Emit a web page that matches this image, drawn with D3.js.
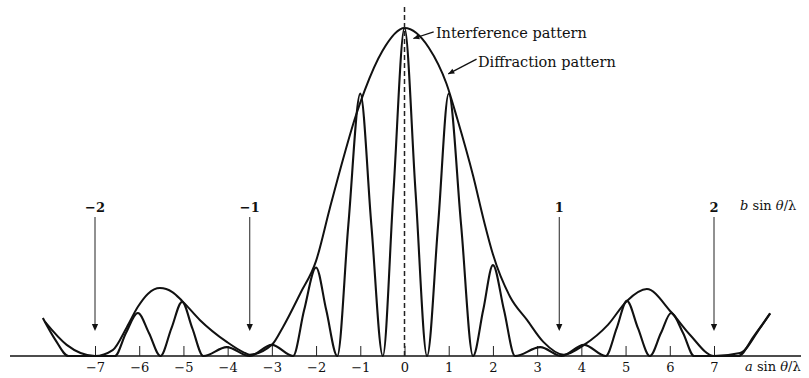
<!DOCTYPE html>
<html>
<head>
<meta charset="utf-8">
<script src="https://cdn.jsdelivr.net/npm/d3@7"></script>
<style>
  html, body { margin: 0; padding: 0; background: #fff; }
  svg { display: block; }
  text { font-family: "DejaVu Serif", "Liberation Serif", serif; fill: #111; }
</style>
</head>
<body>
<svg id="chart" width="809" height="378"></svg>
<script>
// ---- Data ----
// a sin(theta)/lambda tick values
const tickValues = [-7, -6, -5, -4, -3, -2, -1, 0, 1, 2, 3, 4, 5, 6, 7];
// b sin(theta)/lambda secondary labels and their a-positions
const bLabels = ["\u22122", "\u22121", "1", "2"];
const bPositions = [-7, -3.5, 3.5, 7];

// Diffraction envelope [a sin θ/λ, relative intensity]
const envelopePts = [
  [-8.13, 0.104], [-7.64, 0.034], [-7.0, 0.0], [-6.6, 0.018], [-6.28, 0.088],
  [-6.03, 0.15], [-5.8, 0.19], [-5.53, 0.207], [-5.25, 0.195], [-5.03, 0.168],
  [-4.63, 0.11], [-4.02, 0.043], [-3.65, 0.012], [-3.5, 0.004], [-3.0, 0.034],
  [-2.75, 0.088], [-2.36, 0.19], [-2.0, 0.29], [-1.69, 0.45], [-1.39, 0.60],
  [-1.12, 0.725], [-0.9, 0.81], [-0.5, 0.93], [0.0, 1.0], [0.55, 0.94],
  [0.95, 0.83], [1.2, 0.72], [1.55, 0.55], [1.8, 0.41], [2.0, 0.31],
  [2.39, 0.18], [2.77, 0.11], [3.14, 0.043], [3.6, 0.004], [4.06, 0.034],
  [4.6, 0.095], [5.03, 0.168], [5.48, 0.204], [6.03, 0.134], [6.46, 0.064],
  [7.0, 0.0], [7.59, 0.009], [8.04, 0.085], [8.27, 0.13]
];

// Interference pattern [a sin θ/λ, relative intensity]
const interferencePts = [
  [-8.18, 0.116], [-7.9, 0.05], [-7.6, 0.0], [-6.55, 0.0], [-6.3, 0.07],
  [-6.03, 0.131], [-5.78, 0.07], [-5.52, 0.0], [-5.27, 0.085], [-5.03, 0.165],
  [-4.8, 0.085], [-4.55, 0.0], [-4.02, 0.027], [-3.5, 0.0], [-3.0, 0.034],
  [-2.52, 0.0], [-2.27, 0.14], [-2.0, 0.27], [-1.77, 0.14], [-1.52, 0.0],
  [-1.27, 0.40], [-1.0, 0.80], [-0.75, 0.40], [-0.49, 0.0], [-0.25, 0.5],
  [0.0, 1.0], [0.25, 0.5], [0.51, 0.0], [0.76, 0.40], [1.0, 0.80],
  [1.28, 0.40], [1.55, 0.0], [1.78, 0.14], [2.0, 0.277], [2.25, 0.14],
  [2.5, 0.0], [3.07, 0.027], [3.55, 0.0], [4.06, 0.034], [4.55, 0.0],
  [4.8, 0.085], [5.03, 0.168], [5.28, 0.085], [5.55, 0.0], [5.8, 0.07],
  [6.03, 0.131], [6.3, 0.07], [6.55, 0.0], [7.55, 0.0], [7.9, 0.06],
  [8.27, 0.13]
];

// ---- Layout ----
const svg = d3.select("#chart");
const x = d3.scaleLinear().domain([-7, 7]).range([95, 714]);
const y = d3.scaleLinear().domain([0, 1]).range([356, 28]);

// baseline
svg.append("line")
  .attr("x1", 10).attr("x2", 801)
  .attr("y1", y(0)).attr("y2", y(0))
  .attr("stroke", "#111").attr("stroke-width", 1.6);

// axis with upward ticks, labels below
const axis = d3.axisBottom(x)
  .tickValues(tickValues)
  .tickSizeInner(-10).tickSizeOuter(0)
  .tickPadding(7)
  .tickFormat(d3.format("d"));
const gAxis = svg.append("g").attr("transform", `translate(0,${y(0)})`).call(axis);
gAxis.select(".domain").remove();
gAxis.selectAll(".tick line").attr("stroke", "#222").attr("stroke-width", 1);
gAxis.selectAll(".tick text")
  .style("font-family", '"DejaVu Serif", serif')
  .style("font-size", "13px")
  .attr("fill", "#111");

// axis title
const at = svg.append("text").attr("x", 745).attr("y", 371).style("font-size", "13px");
at.append("tspan").style("font-style", "italic").text("a");
at.append("tspan").text(" sin ");
at.append("tspan").style("font-style", "italic").text("\u03b8");
at.append("tspan").text("/\u03bb");

// curves
const line = d3.line().x(d => x(d[0])).y(d => y(d[1])).curve(d3.curveMonotoneX);
svg.append("path").datum(envelopePts).attr("d", line)
  .attr("fill", "none").attr("stroke", "#111").attr("stroke-width", 2)
  .attr("stroke-linejoin", "round");
svg.append("path").datum(interferencePts).attr("d", line)
  .attr("fill", "none").attr("stroke", "#111").attr("stroke-width", 2.1)
  .attr("stroke-linejoin", "round");

// dashed centre line
svg.append("line")
  .attr("x1", x(0)).attr("x2", x(0))
  .attr("y1", 7).attr("y2", y(0))
  .attr("stroke", "#222").attr("stroke-width", 1.5)
  .attr("stroke-dasharray", "5,3");

// b sin θ/λ arrows
function arrowHead(g, tx, ty, dir, size) {
  const s = size || 6;
  const w = s * 0.45;
  const bx = tx - Math.cos(dir) * s, by = ty - Math.sin(dir) * s;
  const px = -Math.sin(dir) * w, py = Math.cos(dir) * w;
  g.append("path")
    .attr("d", `M${tx},${ty}L${bx + px},${by + py}L${bx - px},${by - py}Z`)
    .attr("fill", "#111");
}
const bG = svg.append("g");
bPositions.forEach((p, i) => {
  const px = x(p);
  bG.append("line").attr("x1", px).attr("x2", px)
    .attr("y1", y(0) - 139).attr("y2", y(0) - 30)
    .attr("stroke", "#222").attr("stroke-width", 1);
  arrowHead(bG, px, y(0) - 25, Math.PI / 2, 7);
  bG.append("text").attr("x", px).attr("y", 212)
    .attr("text-anchor", "middle").style("font-size", "13px")
    .style("font-weight", "bold").text(bLabels[i]);
});
const bt = svg.append("text").attr("x", 740).attr("y", 210).style("font-size", "13px");
bt.append("tspan").style("font-style", "italic").text("b");
bt.append("tspan").text(" sin ");
bt.append("tspan").style("font-style", "italic").text("\u03b8");
bt.append("tspan").text("/\u03bb");

// annotations
function leader(x1, y1, x2, y2) {
  svg.append("line").attr("x1", x1).attr("y1", y1).attr("x2", x2).attr("y2", y2)
    .attr("stroke", "#111").attr("stroke-width", 1.3);
  arrowHead(svg, x2, y2, Math.atan2(y2 - y1, x2 - x1), 6);
}
leader(x(0.66), y(0.988), x(0.2), y(0.968));
svg.append("text").attr("x", x(0.71)).attr("y", 38).style("font-size", "14.5px").text("Interference pattern");
leader(x(1.63), y(0.905), x(0.99), y(0.86));
svg.append("text").attr("x", x(1.66)).attr("y", 67).style("font-size", "14.5px").text("Diffraction pattern");
</script>
</body>
</html>
